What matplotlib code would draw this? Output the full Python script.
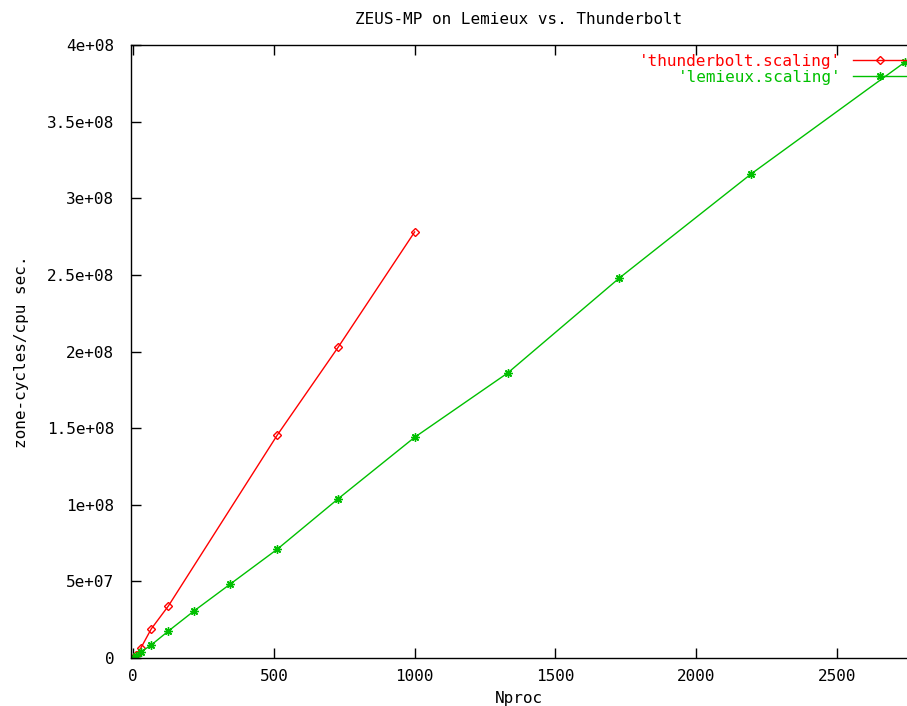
import numpy as np
import matplotlib
matplotlib.use("Agg")
import matplotlib.pyplot as plt
from matplotlib.ticker import FixedLocator, FixedFormatter

# data
thunder_nproc = [1, 8, 27, 64, 125, 512, 729, 1000]
thunder_rate = [0.3e6, 2.0e6, 6.5e6, 19e6, 34e6, 145.5e6, 203e6, 278e6]

lemieux_nproc = [1, 8, 27, 64, 125, 216, 343, 512, 729, 1000, 1331, 1728, 2197, 2744]
lemieux_rate = [0.15e6, 1.2e6, 3.9e6, 8.5e6, 17.6e6, 30.7e6, 48e6, 71e6, 104e6,
                144e6, 186e6, 248e6, 316e6, 389e6]

xticks = [0, 500, 1000, 1500, 2000, 2500]
yticks = [0, 5e7, 1e8, 1.5e8, 2e8, 2.5e8, 3e8, 3.5e8, 4e8]
ytick_labels = ["0", "5e+07", "1e+08", "1.5e+08", "2e+08", "2.5e+08",
                "3e+08", "3.5e+08", "4e+08"]

plt.rcParams['font.family'] = 'DejaVu Sans Mono'
plt.rcParams['font.size'] = 11.5

fig = plt.figure(figsize=(9.07, 7.06), dpi=100)
ax = fig.add_axes([131 / 907, 1 - 658 / 706, 1 - 131 / 907, (658 - 45) / 706])

ax.plot(thunder_nproc, thunder_rate, color='#ff0000', lw=1, marker='D',
        markersize=4, markerfacecolor='none', markeredgewidth=1,
        label="'thunderbolt.scaling'")
ax.plot(lemieux_nproc, lemieux_rate, color='#00c000', lw=1, marker=(8, 2, 0),
        markersize=6, markeredgewidth=1, label="'lemieux.scaling'")

ax.set_xlim(-8, 2750)
ax.set_ylim(0, 4e8)
ax.xaxis.set_major_locator(FixedLocator(xticks))
ax.yaxis.set_major_locator(FixedLocator(yticks))
ax.yaxis.set_major_formatter(FixedFormatter(ytick_labels))
ax.tick_params(direction='in', length=7, width=1, top=True, right=False)
ax.tick_params(axis='x', pad=8)
ax.tick_params(axis='y', pad=12)
ax.spines['right'].set_visible(False)
for s in ['left', 'top', 'bottom']:
    ax.spines[s].set_linewidth(1)

ax.set_title("ZEUS-MP on Lemieux vs. Thunderbolt", fontsize=11.5, pad=15)
ax.set_xlabel("Nproc", labelpad=5)
ax.set_ylabel("zone-cycles/cpu sec.", labelpad=13)

leg = ax.legend(loc='upper right', bbox_to_anchor=(1.012, 1.0), frameon=False,
                markerfirst=False, handlelength=3.4, borderaxespad=0.0,
                borderpad=0.55, labelspacing=0.05, handletextpad=0.75)
for t, c in zip(leg.get_texts(), ['#ff0000', '#00c000']):
    t.set_color(c)

fig.savefig("out.png", dpi=100)
